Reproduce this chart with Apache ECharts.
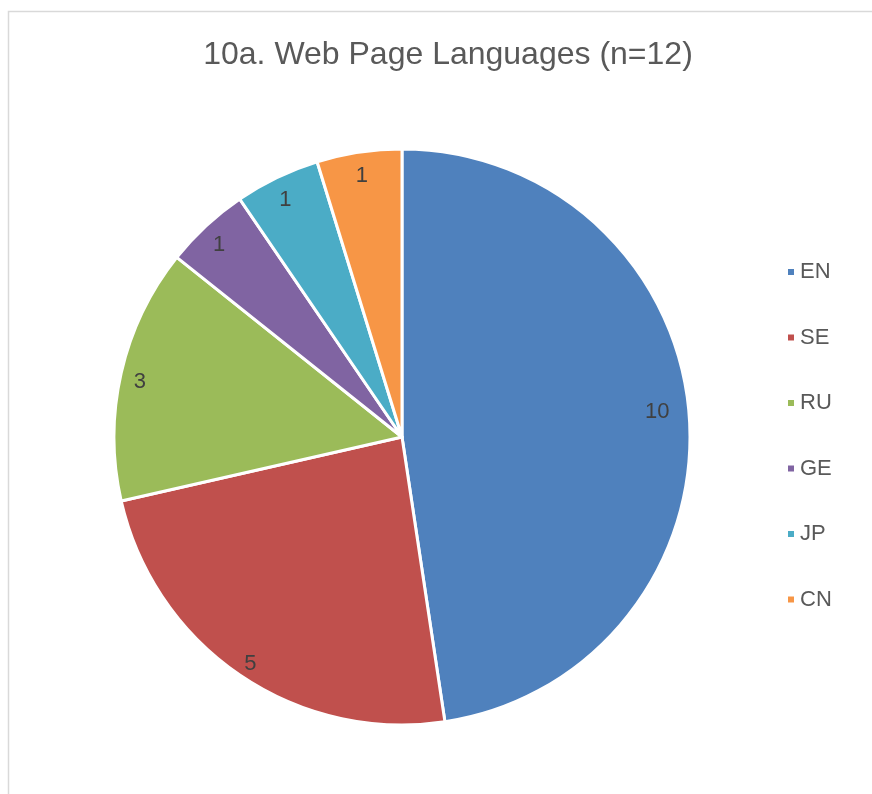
<!DOCTYPE html>
<html>
<head>
<meta charset="utf-8">
<script src="https://cdn.jsdelivr.net/npm/echarts@6/dist/echarts.min.js"></script>
<style>
  html, body { margin: 0; padding: 0; background: #fff; }
  #chart { width: 872px; height: 794px; }
</style>
</head>
<body>
<div id="chart"></div>
<script>
// Languages of the surveyed web pages and their counts
const languages = ['EN', 'SE', 'RU', 'GE', 'JP', 'CN'];
const counts = [10, 5, 3, 1, 1, 1];
const sliceColors = ['#4F81BD', '#C0504D', '#9BBB59', '#8064A2', '#4BACC6', '#F79646'];

const chart = echarts.init(document.getElementById('chart'), null, { renderer: 'canvas' });

const pieData = languages.map((name, i) => ({ name, value: counts[i] }));

// the big slice keeps its label a little further in from the rim
const labelData = pieData.map((d, i) =>
  i === 0 ? Object.assign({}, d, { label: { offset: [-13, -5] } }) : d
);

const center = [402, 437];
const outerR = 288;
const font = 'Liberation Sans, Arial, sans-serif';

chart.setOption({
  animation: false,
  color: sliceColors,
  graphic: [{
    type: 'rect',
    shape: { x: 8.5, y: 11.5, width: 900, height: 900 },
    style: { fill: 'none', stroke: '#d9d9d9', lineWidth: 1.5 },
    silent: true,
    z: -10
  }],
  title: {
    text: '10a. Web Page Languages (n=12)',
    left: 443,
    top: 34,
    textAlign: 'center',
    textStyle: {
      fontFamily: font,
      fontSize: 32,
      fontWeight: 'normal',
      color: '#595959'
    }
  },
  legend: {
    orient: 'vertical',
    left: 781,
    top: 256,
    itemWidth: 8,
    itemHeight: 8,
    itemGap: 43.5,
    icon: 'rect',
    data: languages,
    textStyle: {
      fontFamily: font,
      fontSize: 22,
      lineHeight: 22,
      color: '#595959'
    }
  },
  series: [
    {
      type: 'pie',
      center: center,
      radius: [0, outerR],
      startAngle: 90,
      clockwise: true,
      data: pieData,
      itemStyle: { borderColor: '#ffffff', borderWidth: 3 },
      label: { show: false },
      labelLine: { show: false },
      emphasis: { disabled: true },
      silent: true
    },
    {
      // transparent ring that carries the value labels near the outer edge
      type: 'pie',
      center: center,
      radius: [238, 294],
      startAngle: 90,
      clockwise: true,
      data: labelData,
      legendHoverLink: false,
      itemStyle: { color: 'rgba(0,0,0,0)', borderWidth: 0 },
      label: {
        show: true,
        position: 'inside',
        formatter: '{c}',
        offset: [0, 5],
        fontFamily: font,
        fontSize: 22,
        color: '#404040'
      },
      labelLine: { show: false },
      emphasis: { disabled: true },
      silent: true,
      z: 5
    }
  ]
});
</script>
</body>
</html>
